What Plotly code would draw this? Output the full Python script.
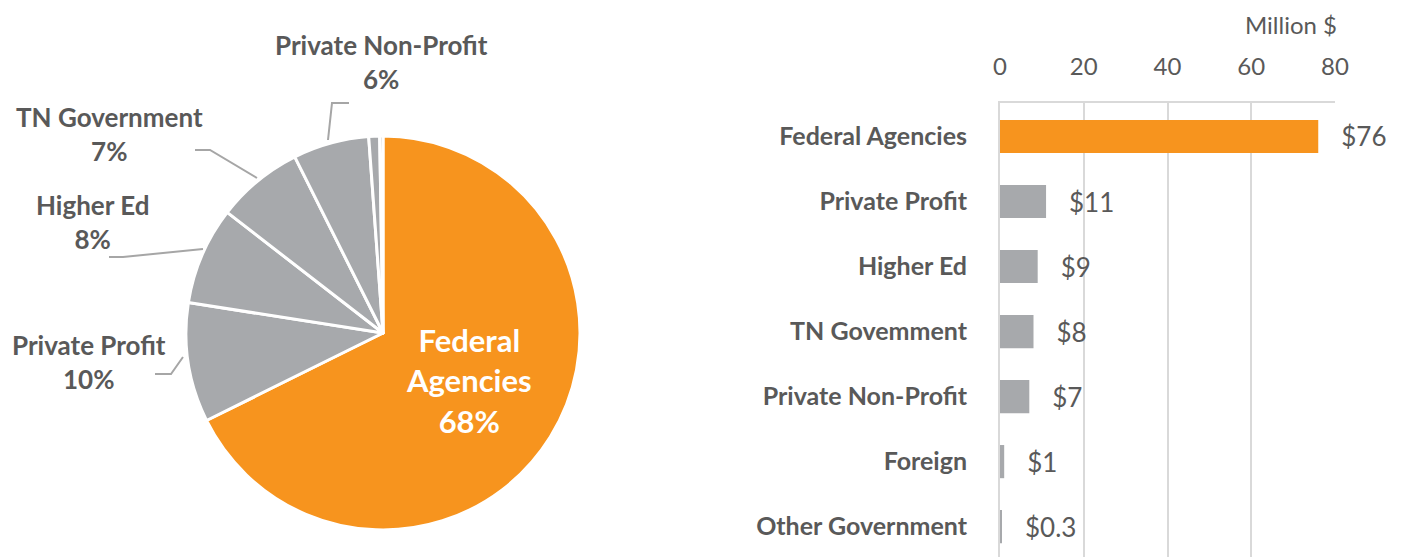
import plotly.graph_objects as go

W, H = 1401, 557
PAGE_OFFSET = 8  # default body margin of the html page

sources = ["Federal Agencies", "Private Profit", "Higher Ed", "TN Government",
           "Private Non-Profit", "Foreign", "Other Government"]
bar_names = ["Federal Agencies", "Private Profit", "Higher Ed", "TN Govemment",
             "Private Non-Profit", "Foreign", "Other Government"]
funding = [76, 11, 9, 8, 7, 1, 0.3]
x_ticks = [0, 20, 40, 60, 80]

ORANGE = "#F7941E"
GRAY = "#A7A9AC"
TEXT = "#595959"
GRID = "#D9D9D9"
FONT = "Lato"
colors = [ORANGE] + [GRAY] * (len(funding) - 1)


def px(x):
    return (x - PAGE_OFFSET) / W


def py(y):
    return 1 - (y - PAGE_OFFSET) / H


fig = go.Figure()

fig.add_trace(go.Pie(
    labels=sources,
    values=funding,
    sort=False,
    direction="clockwise",
    rotation=0,
    textinfo="none",
    marker=dict(colors=colors, line=dict(color="white", width=3)),
    domain=dict(x=[px(186), px(580)], y=[py(530), py(136)]),
    showlegend=False,
    hoverinfo="label+percent",
))

fig.add_trace(go.Bar(
    x=funding,
    y=bar_names,
    orientation="h",
    width=0.51,
    marker=dict(color=colors, line_width=0),
    texttemplate="\u00a0\u00a0\u00a0$%{x}",
    textposition="outside",
    textfont=dict(family=FONT, size=26, color=TEXT),
    cliponaxis=False,
    showlegend=False,
))

total = sum(funding)
pct = [round(v / total * 100) for v in funding]

# outside pie labels: (slice index, x center, y center of the two lines)
label_pos = [(4, 381, 62), (3, 110, 134), (2, 92, 222), (1, 89, 362)]
for i, x, y in label_pos:
    fig.add_annotation(
        x=px(x), y=py(y), xref="paper", yref="paper",
        text=f"{sources[i]}<br>{pct[i]}%", showarrow=False,
        font=dict(family=FONT, size=26, color=TEXT, weight="bold"),
        align="center", xanchor="center", yanchor="middle",
    )

fig.add_annotation(
    x=px(469), y=py(380), xref="paper", yref="paper",
    text=f"Federal<br>Agencies<br>{pct[0]}%", showarrow=False,
    font=dict(family=FONT, size=31, color="white", weight="bold"),
    align="center", xanchor="center", yanchor="middle",
)

leaders = [
    [(349, 103), (332, 103), (328, 140)],
    [(195, 150), (210, 150), (257, 178)],
    [(109, 257), (123, 257), (203, 249)],
    [(155, 374), (171, 374), (183, 357)],
]
for pts in leaders:
    path = "M " + " L ".join(f"{px(a)},{py(b)}" for a, b in pts)
    fig.add_shape(type="path", path=path, xref="paper", yref="paper",
                  line=dict(color="#A6A6A6", width=2))

fig.add_annotation(
    x=px(1339), y=py(8), xref="paper", yref="paper",
    text="Million $", showarrow=False,
    font=dict(family=FONT, size=24, color=TEXT),
    xanchor="right", yanchor="top",
)

fig.update_layout(
    width=W, height=H,
    margin=dict(l=0, r=0, t=0, b=0, autoexpand=False),
    paper_bgcolor="white",
    plot_bgcolor="white",
    font=dict(family=FONT, color=TEXT),
    xaxis=dict(
        domain=[px(1000), px(1335)],
        range=[0, 80],
        side="top",
        tickvals=x_ticks,
        showgrid=True,
        gridcolor=GRID,
        gridwidth=2,
        showline=True,
        linecolor=GRID,
        linewidth=2,
        zeroline=False,
        ticks="",
        ticklabelstandoff=16,
        tickfont=dict(family=FONT, size=24, color=TEXT),
        automargin=False,
        fixedrange=True,
    ),
    yaxis=dict(
        domain=[0, py(103)],
        type="category",
        categoryorder="array",
        categoryarray=bar_names,
        range=[6.59, -0.515],
        showgrid=False,
        showline=True,
        linecolor=GRID,
        linewidth=2,
        zeroline=False,
        ticks="",
        ticklabelstandoff=26,
        tickfont=dict(family=FONT, size=25, color=TEXT, weight="bold"),
        automargin=False,
        fixedrange=True,
    ),
)

fig.write_html("out.html")
